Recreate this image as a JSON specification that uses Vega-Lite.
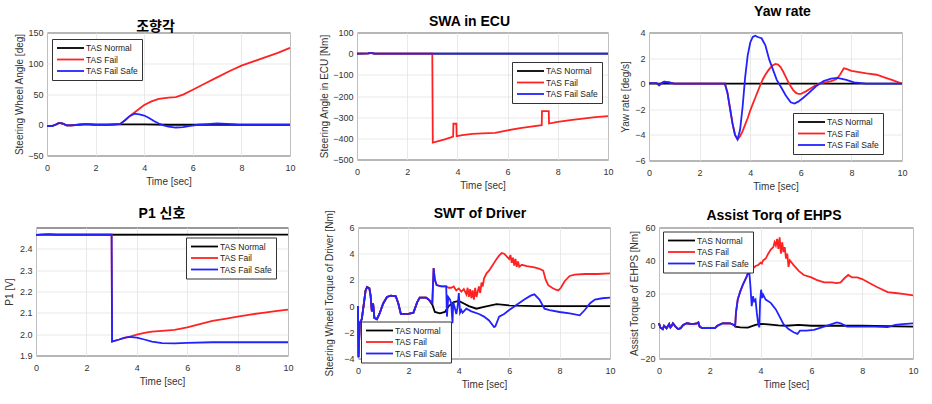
{
"$schema": "https://vega.github.io/schema/vega-lite/v6.json",
"padding": {"left": 0, "top": 4.5, "right": 0, "bottom": 0},
"spacing": 13,
"resolve": {"scale": {"color": "independent"}, "legend": {"color": "independent"}},
"config": {
  "font": "Liberation Sans",
  "view": {"stroke": "#333", "strokeWidth": 1},
  "axis": {"grid": true, "gridColor": "#e3e3e3", "gridWidth": 0.8, "ticks": false, "domain": false, "labelFlush": false, "labelOverlap": false, "labelFontSize": 9, "labelColor": "#333", "titleFontSize": 10, "titleFontWeight": "normal", "titleColor": "#333", "labelPadding": 4},
  "axisX": {"labelPadding": 7.5, "titlePadding": 4.5},
  "title": {"font": "Liberation Sans, Noto Sans CJK KR", "fontSize": 14, "fontWeight": "bold", "color": "#000", "frame": "group"},
  "legend": {"orient": "none", "symbolType": "M-1,0L5.75,0", "symbolSize": 64, "symbolStrokeWidth": 2, "labelOffset": 20, "labelFontSize": 8.5, "labelColor": "#222", "padding": 4, "rowPadding": 1.5, "strokeColor": "#333", "fillColor": "white"},
  "line": {"strokeWidth": 1.8}
},
"datasets": {
"p1": [
{"t":0,"v":-2,"s":"N"},{"t":0.2,"v":-2,"s":"N"},{"t":0.35,"v":0,"s":"N"},{"t":0.5,"v":3,"s":"N"},{"t":0.65,"v":2,"s":"N"},{"t":0.8,"v":-1,"s":"N"},{"t":1.0,"v":-1,"s":"N"},{"t":1.3,"v":0,"s":"N"},{"t":1.6,"v":1,"s":"N"},{"t":2.0,"v":0,"s":"N"},{"t":2.5,"v":0,"s":"N"},{"t":3.0,"v":0.5,"s":"N"},{"t":4.0,"v":0.5,"s":"N"},{"t":5.0,"v":0,"s":"N"},{"t":10,"v":0,"s":"N"},
{"t":0,"v":-2,"s":"F"},{"t":0.2,"v":-2,"s":"F"},{"t":0.35,"v":0,"s":"F"},{"t":0.5,"v":3,"s":"F"},{"t":0.65,"v":2,"s":"F"},{"t":0.8,"v":-1,"s":"F"},{"t":1.0,"v":-1,"s":"F"},{"t":1.3,"v":0,"s":"F"},{"t":1.6,"v":1,"s":"F"},{"t":2.0,"v":0,"s":"F"},{"t":2.5,"v":0,"s":"F"},{"t":2.9,"v":1,"s":"F"},{"t":3.0,"v":1,"s":"F"},{"t":3.2,"v":7,"s":"F"},{"t":3.4,"v":14,"s":"F"},{"t":3.6,"v":20,"s":"F"},{"t":3.8,"v":26,"s":"F"},{"t":4.0,"v":32,"s":"F"},{"t":4.3,"v":38,"s":"F"},{"t":4.6,"v":42,"s":"F"},{"t":5.0,"v":44,"s":"F"},{"t":5.3,"v":45,"s":"F"},{"t":5.6,"v":49,"s":"F"},{"t":6.0,"v":57,"s":"F"},{"t":6.5,"v":67,"s":"F"},{"t":7.0,"v":77,"s":"F"},{"t":7.5,"v":87,"s":"F"},{"t":8.0,"v":96,"s":"F"},{"t":8.5,"v":103,"s":"F"},{"t":9.0,"v":110,"s":"F"},{"t":9.5,"v":117,"s":"F"},{"t":10,"v":125,"s":"F"},
{"t":0,"v":-2,"s":"S"},{"t":0.2,"v":-2,"s":"S"},{"t":0.35,"v":0,"s":"S"},{"t":0.5,"v":3,"s":"S"},{"t":0.65,"v":2,"s":"S"},{"t":0.8,"v":-1,"s":"S"},{"t":1.0,"v":-1,"s":"S"},{"t":1.3,"v":0,"s":"S"},{"t":1.6,"v":1,"s":"S"},{"t":2.0,"v":0,"s":"S"},{"t":2.5,"v":0,"s":"S"},{"t":2.9,"v":1,"s":"S"},{"t":3.0,"v":1,"s":"S"},{"t":3.2,"v":7,"s":"S"},{"t":3.4,"v":14,"s":"S"},{"t":3.6,"v":18,"s":"S"},{"t":3.8,"v":17,"s":"S"},{"t":4.0,"v":15,"s":"S"},{"t":4.2,"v":11,"s":"S"},{"t":4.4,"v":6,"s":"S"},{"t":4.6,"v":2,"s":"S"},{"t":4.8,"v":-1,"s":"S"},{"t":5.0,"v":-3,"s":"S"},{"t":5.3,"v":-4.5,"s":"S"},{"t":5.6,"v":-4,"s":"S"},{"t":5.9,"v":-2,"s":"S"},{"t":6.2,"v":0,"s":"S"},{"t":6.6,"v":1,"s":"S"},{"t":7.0,"v":2,"s":"S"},{"t":7.4,"v":1.5,"s":"S"},{"t":7.8,"v":0.5,"s":"S"},{"t":8.5,"v":0,"s":"S"},{"t":10,"v":0,"s":"S"}
],
"p2": [
{"t":0,"v":0,"s":"N"},{"t":0.45,"v":1,"s":"N"},{"t":0.55,"v":4,"s":"N"},{"t":0.7,"v":0,"s":"N"},{"t":10,"v":0,"s":"N"},
{"t":0,"v":0,"s":"F"},{"t":0.45,"v":1,"s":"F"},{"t":0.55,"v":4,"s":"F"},{"t":0.7,"v":0,"s":"F"},{"t":3.0,"v":0,"s":"F"},{"t":3.02,"v":-420,"s":"F"},{"t":3.5,"v":-405,"s":"F"},{"t":3.83,"v":-392,"s":"F"},{"t":3.84,"v":-331,"s":"F"},{"t":3.96,"v":-331,"s":"F"},{"t":3.97,"v":-390,"s":"F"},{"t":4.2,"v":-385,"s":"F"},{"t":4.6,"v":-379,"s":"F"},{"t":5.0,"v":-377,"s":"F"},{"t":5.5,"v":-374,"s":"F"},{"t":6.0,"v":-362,"s":"F"},{"t":6.5,"v":-352,"s":"F"},{"t":7.0,"v":-344,"s":"F"},{"t":7.36,"v":-338,"s":"F"},{"t":7.37,"v":-271,"s":"F"},{"t":7.64,"v":-271,"s":"F"},{"t":7.65,"v":-330,"s":"F"},{"t":8.0,"v":-322,"s":"F"},{"t":8.5,"v":-314,"s":"F"},{"t":9.0,"v":-307,"s":"F"},{"t":9.5,"v":-300,"s":"F"},{"t":10,"v":-295,"s":"F"},
{"t":0,"v":0,"s":"S"},{"t":0.45,"v":1,"s":"S"},{"t":0.55,"v":4,"s":"S"},{"t":0.7,"v":0,"s":"S"},{"t":10,"v":0,"s":"S"}
],
"p3": [
{"t":0,"v":0,"s":"N"},{"t":10,"v":0,"s":"N"},
{"t":0,"v":0.05,"s":"F"},{"t":0.3,"v":0.05,"s":"F"},{"t":0.4,"v":-0.12,"s":"F"},{"t":0.5,"v":0.05,"s":"F"},{"t":0.6,"v":0.15,"s":"F"},{"t":0.8,"v":0.1,"s":"F"},{"t":1.0,"v":0,"s":"F"},{"t":3.0,"v":0,"s":"F"},{"t":3.1,"v":-0.7,"s":"F"},{"t":3.2,"v":-1.9,"s":"F"},{"t":3.3,"v":-3.1,"s":"F"},{"t":3.4,"v":-4.0,"s":"F"},{"t":3.5,"v":-4.35,"s":"F"},{"t":3.6,"v":-4.1,"s":"F"},{"t":3.7,"v":-3.7,"s":"F"},{"t":3.8,"v":-3.2,"s":"F"},{"t":3.9,"v":-2.7,"s":"F"},{"t":4.0,"v":-2.1,"s":"F"},{"t":4.1,"v":-1.6,"s":"F"},{"t":4.2,"v":-1.1,"s":"F"},{"t":4.3,"v":-0.6,"s":"F"},{"t":4.4,"v":-0.1,"s":"F"},{"t":4.5,"v":0.35,"s":"F"},{"t":4.6,"v":0.7,"s":"F"},{"t":4.7,"v":1.0,"s":"F"},{"t":4.8,"v":1.25,"s":"F"},{"t":4.9,"v":1.45,"s":"F"},{"t":5.0,"v":1.55,"s":"F"},{"t":5.1,"v":1.5,"s":"F"},{"t":5.2,"v":1.3,"s":"F"},{"t":5.3,"v":0.95,"s":"F"},{"t":5.4,"v":0.55,"s":"F"},{"t":5.5,"v":0.15,"s":"F"},{"t":5.6,"v":-0.2,"s":"F"},{"t":5.7,"v":-0.5,"s":"F"},{"t":5.8,"v":-0.7,"s":"F"},{"t":5.9,"v":-0.8,"s":"F"},{"t":6.0,"v":-0.8,"s":"F"},{"t":6.2,"v":-0.6,"s":"F"},{"t":6.4,"v":-0.35,"s":"F"},{"t":6.6,"v":-0.1,"s":"F"},{"t":6.8,"v":0.05,"s":"F"},{"t":7.0,"v":0.1,"s":"F"},{"t":7.2,"v":0.2,"s":"F"},{"t":7.4,"v":0.35,"s":"F"},{"t":7.55,"v":0.7,"s":"F"},{"t":7.7,"v":1.2,"s":"F"},{"t":7.8,"v":1.15,"s":"F"},{"t":8.0,"v":1.0,"s":"F"},{"t":8.3,"v":0.9,"s":"F"},{"t":8.6,"v":0.8,"s":"F"},{"t":9.0,"v":0.7,"s":"F"},{"t":9.3,"v":0.5,"s":"F"},{"t":9.6,"v":0.3,"s":"F"},{"t":10,"v":0,"s":"F"},
{"t":0,"v":0.05,"s":"S"},{"t":0.3,"v":0.05,"s":"S"},{"t":0.4,"v":-0.12,"s":"S"},{"t":0.5,"v":0.05,"s":"S"},{"t":0.6,"v":0.15,"s":"S"},{"t":0.8,"v":0.1,"s":"S"},{"t":1.0,"v":0,"s":"S"},{"t":3.0,"v":0,"s":"S"},{"t":3.1,"v":-0.7,"s":"S"},{"t":3.2,"v":-1.9,"s":"S"},{"t":3.3,"v":-3.1,"s":"S"},{"t":3.4,"v":-4.0,"s":"S"},{"t":3.5,"v":-4.35,"s":"S"},{"t":3.6,"v":-3.6,"s":"S"},{"t":3.7,"v":-1.8,"s":"S"},{"t":3.8,"v":0.5,"s":"S"},{"t":3.9,"v":2.2,"s":"S"},{"t":4.0,"v":3.2,"s":"S"},{"t":4.1,"v":3.65,"s":"S"},{"t":4.2,"v":3.75,"s":"S"},{"t":4.3,"v":3.65,"s":"S"},{"t":4.45,"v":3.55,"s":"S"},{"t":4.6,"v":3.0,"s":"S"},{"t":4.75,"v":1.9,"s":"S"},{"t":4.9,"v":1.1,"s":"S"},{"t":5.05,"v":0.3,"s":"S"},{"t":5.2,"v":-0.2,"s":"S"},{"t":5.4,"v":-0.9,"s":"S"},{"t":5.6,"v":-1.45,"s":"S"},{"t":5.75,"v":-1.55,"s":"S"},{"t":5.9,"v":-1.4,"s":"S"},{"t":6.1,"v":-1.1,"s":"S"},{"t":6.3,"v":-0.75,"s":"S"},{"t":6.6,"v":-0.2,"s":"S"},{"t":6.9,"v":0.2,"s":"S"},{"t":7.2,"v":0.4,"s":"S"},{"t":7.45,"v":0.45,"s":"S"},{"t":7.8,"v":0.3,"s":"S"},{"t":8.1,"v":0.1,"s":"S"},{"t":8.6,"v":0,"s":"S"},{"t":10,"v":0,"s":"S"}
],
"p4": [
{"t":0,"v":2.465,"s":"N"},{"t":0.5,"v":2.468,"s":"N"},{"t":0.8,"v":2.466,"s":"N"},{"t":10,"v":2.467,"s":"N"},
{"t":0,"v":2.465,"s":"F"},{"t":0.5,"v":2.468,"s":"F"},{"t":0.8,"v":2.466,"s":"F"},{"t":3.0,"v":2.466,"s":"F"},{"t":3.02,"v":1.965,"s":"F"},{"t":3.3,"v":1.975,"s":"F"},{"t":3.5,"v":1.983,"s":"F"},{"t":3.7,"v":1.987,"s":"F"},{"t":4.0,"v":1.998,"s":"F"},{"t":4.3,"v":2.006,"s":"F"},{"t":4.6,"v":2.012,"s":"F"},{"t":5.0,"v":2.015,"s":"F"},{"t":5.5,"v":2.02,"s":"F"},{"t":6.0,"v":2.032,"s":"F"},{"t":6.5,"v":2.047,"s":"F"},{"t":7.0,"v":2.062,"s":"F"},{"t":7.5,"v":2.072,"s":"F"},{"t":8.0,"v":2.082,"s":"F"},{"t":8.5,"v":2.092,"s":"F"},{"t":9.0,"v":2.1,"s":"F"},{"t":9.5,"v":2.108,"s":"F"},{"t":10,"v":2.115,"s":"F"},
{"t":0,"v":2.465,"s":"S"},{"t":0.5,"v":2.468,"s":"S"},{"t":0.8,"v":2.466,"s":"S"},{"t":3.0,"v":2.466,"s":"S"},{"t":3.02,"v":1.965,"s":"S"},{"t":3.3,"v":1.975,"s":"S"},{"t":3.5,"v":1.983,"s":"S"},{"t":3.7,"v":1.987,"s":"S"},{"t":4.0,"v":1.984,"s":"S"},{"t":4.3,"v":1.975,"s":"S"},{"t":4.6,"v":1.965,"s":"S"},{"t":5.0,"v":1.958,"s":"S"},{"t":5.5,"v":1.957,"s":"S"},{"t":6.0,"v":1.959,"s":"S"},{"t":7.0,"v":1.962,"s":"S"},{"t":8.0,"v":1.962,"s":"S"},{"t":10,"v":1.962,"s":"S"}
],
"p5": [
{"t":0,"v":0,"s":"N"},{"t":0.02,"v":-3.9,"s":"N"},{"t":0.07,"v":-1.3,"s":"N"},{"t":0.15,"v":-1.0,"s":"N"},{"t":0.22,"v":0,"s":"N"},{"t":0.3,"v":1.2,"s":"N"},{"t":0.36,"v":1.45,"s":"N"},{"t":0.45,"v":1.35,"s":"N"},{"t":0.5,"v":0.8,"s":"N"},{"t":0.55,"v":-0.4,"s":"N"},{"t":0.6,"v":0.2,"s":"N"},{"t":0.65,"v":-0.9,"s":"N"},{"t":0.75,"v":-1.0,"s":"N"},{"t":0.85,"v":-0.6,"s":"N"},{"t":1.0,"v":0.2,"s":"N"},{"t":1.15,"v":0.7,"s":"N"},{"t":1.3,"v":0.8,"s":"N"},{"t":1.5,"v":0.75,"s":"N"},{"t":1.6,"v":0.2,"s":"N"},{"t":1.7,"v":-0.6,"s":"N"},{"t":2.0,"v":-0.6,"s":"N"},{"t":2.2,"v":-0.5,"s":"N"},{"t":2.35,"v":0.3,"s":"N"},{"t":2.45,"v":0.65,"s":"N"},{"t":2.7,"v":0.65,"s":"N"},{"t":2.8,"v":0.5,"s":"N"},{"t":2.95,"v":0.1,"s":"N"},{"t":3.05,"v":-0.45,"s":"N"},{"t":3.25,"v":-0.55,"s":"N"},{"t":3.45,"v":-0.45,"s":"N"},{"t":3.6,"v":0.0,"s":"N"},{"t":3.8,"v":0.3,"s":"N"},{"t":4.0,"v":0.4,"s":"N"},{"t":4.2,"v":0.2,"s":"N"},{"t":4.4,"v":0.0,"s":"N"},{"t":4.7,"v":-0.2,"s":"N"},{"t":5.0,"v":-0.05,"s":"N"},{"t":5.5,"v":0.15,"s":"N"},{"t":6.0,"v":0.05,"s":"N"},{"t":7.0,"v":0,"s":"N"},{"t":10,"v":0,"s":"N"},
{"t":0,"v":0,"s":"F"},{"t":0.02,"v":-3.9,"s":"F"},{"t":0.07,"v":-1.3,"s":"F"},{"t":0.15,"v":-1.0,"s":"F"},{"t":0.22,"v":0,"s":"F"},{"t":0.3,"v":1.2,"s":"F"},{"t":0.36,"v":1.45,"s":"F"},{"t":0.45,"v":1.35,"s":"F"},{"t":0.5,"v":0.8,"s":"F"},{"t":0.55,"v":-0.4,"s":"F"},{"t":0.6,"v":0.2,"s":"F"},{"t":0.65,"v":-0.9,"s":"F"},{"t":0.75,"v":-1.0,"s":"F"},{"t":0.85,"v":-0.6,"s":"F"},{"t":1.0,"v":0.2,"s":"F"},{"t":1.15,"v":0.7,"s":"F"},{"t":1.3,"v":0.8,"s":"F"},{"t":1.5,"v":0.75,"s":"F"},{"t":1.6,"v":0.2,"s":"F"},{"t":1.7,"v":-0.6,"s":"F"},{"t":2.0,"v":-0.6,"s":"F"},{"t":2.2,"v":-0.5,"s":"F"},{"t":2.35,"v":0.3,"s":"F"},{"t":2.45,"v":0.65,"s":"F"},{"t":2.7,"v":0.65,"s":"F"},{"t":2.8,"v":0.5,"s":"F"},{"t":2.95,"v":0.25,"s":"F"},{"t":3.0,"v":2.9,"s":"F"},{"t":3.05,"v":2.0,"s":"F"},{"t":3.12,"v":1.6,"s":"F"},{"t":3.3,"v":1.5,"s":"F"},{"t":3.5,"v":1.5,"s":"F"},{"t":3.6,"v":1.4,"s":"F"},{"t":3.7,"v":1.4,"s":"F"},{"t":3.8,"v":1.5,"s":"F"},{"t":3.9,"v":1.2,"s":"F"},{"t":4.0,"v":1.35,"s":"F"},{"t":4.1,"v":1.1,"s":"F"},{"t":4.2,"v":1.3,"s":"F"},{"t":4.3,"v":0.9,"s":"F"},{"t":4.35,"v":1.4,"s":"F"},{"t":4.4,"v":0.7,"s":"F"},{"t":4.45,"v":1.3,"s":"F"},{"t":4.5,"v":0.6,"s":"F"},{"t":4.55,"v":1.2,"s":"F"},{"t":4.6,"v":0.5,"s":"F"},{"t":4.65,"v":1.4,"s":"F"},{"t":4.7,"v":0.7,"s":"F"},{"t":4.75,"v":1.1,"s":"F"},{"t":4.8,"v":1.5,"s":"F"},{"t":4.85,"v":1.0,"s":"F"},{"t":4.9,"v":1.8,"s":"F"},{"t":4.95,"v":1.5,"s":"F"},{"t":5.0,"v":2.1,"s":"F"},{"t":5.1,"v":2.5,"s":"F"},{"t":5.2,"v":2.7,"s":"F"},{"t":5.3,"v":3.0,"s":"F"},{"t":5.4,"v":3.3,"s":"F"},{"t":5.5,"v":3.6,"s":"F"},{"t":5.6,"v":3.85,"s":"F"},{"t":5.7,"v":4.05,"s":"F"},{"t":5.8,"v":4.0,"s":"F"},{"t":5.9,"v":3.8,"s":"F"},{"t":6.0,"v":3.6,"s":"F"},{"t":6.05,"v":3.9,"s":"F"},{"t":6.1,"v":3.3,"s":"F"},{"t":6.15,"v":3.7,"s":"F"},{"t":6.2,"v":3.1,"s":"F"},{"t":6.25,"v":3.6,"s":"F"},{"t":6.3,"v":3.0,"s":"F"},{"t":6.35,"v":3.4,"s":"F"},{"t":6.4,"v":3.0,"s":"F"},{"t":6.5,"v":3.15,"s":"F"},{"t":6.7,"v":3.05,"s":"F"},{"t":7.0,"v":2.95,"s":"F"},{"t":7.2,"v":2.85,"s":"F"},{"t":7.35,"v":2.7,"s":"F"},{"t":7.45,"v":2.0,"s":"F"},{"t":7.55,"v":1.6,"s":"F"},{"t":7.7,"v":1.4,"s":"F"},{"t":7.85,"v":1.25,"s":"F"},{"t":7.95,"v":1.2,"s":"F"},{"t":8.05,"v":1.4,"s":"F"},{"t":8.2,"v":1.9,"s":"F"},{"t":8.4,"v":2.3,"s":"F"},{"t":8.6,"v":2.4,"s":"F"},{"t":9.0,"v":2.45,"s":"F"},{"t":9.5,"v":2.45,"s":"F"},{"t":10,"v":2.5,"s":"F"},
{"t":0,"v":0,"s":"S"},{"t":0.02,"v":-3.9,"s":"S"},{"t":0.07,"v":-1.3,"s":"S"},{"t":0.15,"v":-1.0,"s":"S"},{"t":0.22,"v":0,"s":"S"},{"t":0.3,"v":1.2,"s":"S"},{"t":0.36,"v":1.45,"s":"S"},{"t":0.45,"v":1.35,"s":"S"},{"t":0.5,"v":0.8,"s":"S"},{"t":0.55,"v":-0.4,"s":"S"},{"t":0.6,"v":0.2,"s":"S"},{"t":0.65,"v":-0.9,"s":"S"},{"t":0.75,"v":-1.0,"s":"S"},{"t":0.85,"v":-0.6,"s":"S"},{"t":1.0,"v":0.2,"s":"S"},{"t":1.15,"v":0.7,"s":"S"},{"t":1.3,"v":0.8,"s":"S"},{"t":1.5,"v":0.75,"s":"S"},{"t":1.6,"v":0.2,"s":"S"},{"t":1.7,"v":-0.6,"s":"S"},{"t":2.0,"v":-0.6,"s":"S"},{"t":2.2,"v":-0.5,"s":"S"},{"t":2.35,"v":0.3,"s":"S"},{"t":2.45,"v":0.65,"s":"S"},{"t":2.7,"v":0.65,"s":"S"},{"t":2.8,"v":0.5,"s":"S"},{"t":2.95,"v":0.25,"s":"S"},{"t":3.0,"v":2.9,"s":"S"},{"t":3.05,"v":2.0,"s":"S"},{"t":3.12,"v":1.6,"s":"S"},{"t":3.3,"v":1.5,"s":"S"},{"t":3.5,"v":1.5,"s":"S"},{"t":3.53,"v":-0.8,"s":"S"},{"t":3.58,"v":0.7,"s":"S"},{"t":3.65,"v":0.5,"s":"S"},{"t":3.7,"v":0.2,"s":"S"},{"t":3.75,"v":-1.3,"s":"S"},{"t":3.78,"v":0.3,"s":"S"},{"t":3.85,"v":-0.2,"s":"S"},{"t":3.9,"v":-0.6,"s":"S"},{"t":3.95,"v":-0.1,"s":"S"},{"t":4.0,"v":1.0,"s":"S"},{"t":4.05,"v":-0.5,"s":"S"},{"t":4.1,"v":-0.3,"s":"S"},{"t":4.15,"v":-0.5,"s":"S"},{"t":4.3,"v":-0.2,"s":"S"},{"t":4.5,"v":-0.4,"s":"S"},{"t":4.8,"v":-0.6,"s":"S"},{"t":5.0,"v":-0.8,"s":"S"},{"t":5.2,"v":-1.1,"s":"S"},{"t":5.4,"v":-1.6,"s":"S"},{"t":5.45,"v":-1.55,"s":"S"},{"t":5.6,"v":-0.8,"s":"S"},{"t":5.8,"v":-0.6,"s":"S"},{"t":6.0,"v":-0.3,"s":"S"},{"t":6.3,"v":0.1,"s":"S"},{"t":6.6,"v":0.5,"s":"S"},{"t":6.85,"v":0.8,"s":"S"},{"t":7.0,"v":0.9,"s":"S"},{"t":7.2,"v":0.5,"s":"S"},{"t":7.4,"v":-0.2,"s":"S"},{"t":7.6,"v":-0.3,"s":"S"},{"t":8.0,"v":-0.45,"s":"S"},{"t":8.4,"v":-0.55,"s":"S"},{"t":8.8,"v":-0.7,"s":"S"},{"t":9.0,"v":-0.3,"s":"S"},{"t":9.2,"v":0.2,"s":"S"},{"t":9.4,"v":0.5,"s":"S"},{"t":9.7,"v":0.6,"s":"S"},{"t":10,"v":0.65,"s":"S"}
],
"p6": [
{"t":0,"v":1.5,"s":"N"},{"t":0.05,"v":-1,"s":"N"},{"t":0.15,"v":-2,"s":"N"},{"t":0.2,"v":0,"s":"N"},{"t":0.3,"v":-1.5,"s":"N"},{"t":0.4,"v":1,"s":"N"},{"t":0.45,"v":-1,"s":"N"},{"t":0.5,"v":0,"s":"N"},{"t":0.55,"v":1.5,"s":"N"},{"t":0.65,"v":-0.5,"s":"N"},{"t":0.75,"v":-2,"s":"N"},{"t":0.85,"v":-1.5,"s":"N"},{"t":0.95,"v":0.5,"s":"N"},{"t":1.1,"v":1.5,"s":"N"},{"t":1.3,"v":1,"s":"N"},{"t":1.5,"v":1.5,"s":"N"},{"t":1.55,"v":2,"s":"N"},{"t":1.6,"v":-0.5,"s":"N"},{"t":1.7,"v":-1.5,"s":"N"},{"t":2.2,"v":-1.5,"s":"N"},{"t":2.3,"v":0,"s":"N"},{"t":2.5,"v":1.5,"s":"N"},{"t":2.8,"v":1.5,"s":"N"},{"t":2.95,"v":0.5,"s":"N"},{"t":3.0,"v":-0.5,"s":"N"},{"t":3.2,"v":-1,"s":"N"},{"t":3.5,"v":-1.2,"s":"N"},{"t":3.8,"v":0.5,"s":"N"},{"t":4.0,"v":1.2,"s":"N"},{"t":4.3,"v":0.8,"s":"N"},{"t":4.7,"v":0.2,"s":"N"},{"t":5.0,"v":0,"s":"N"},{"t":5.5,"v":0.5,"s":"N"},{"t":6.0,"v":0,"s":"N"},{"t":8.0,"v":0,"s":"N"},{"t":10,"v":-0.5,"s":"N"},
{"t":0,"v":1.5,"s":"F"},{"t":0.05,"v":-1,"s":"F"},{"t":0.15,"v":-2,"s":"F"},{"t":0.2,"v":0,"s":"F"},{"t":0.3,"v":-1.5,"s":"F"},{"t":0.4,"v":1,"s":"F"},{"t":0.45,"v":-1,"s":"F"},{"t":0.5,"v":0,"s":"F"},{"t":0.55,"v":1.5,"s":"F"},{"t":0.65,"v":-0.5,"s":"F"},{"t":0.75,"v":-2,"s":"F"},{"t":0.85,"v":-1.5,"s":"F"},{"t":0.95,"v":0.5,"s":"F"},{"t":1.1,"v":1.5,"s":"F"},{"t":1.3,"v":1,"s":"F"},{"t":1.5,"v":1.5,"s":"F"},{"t":1.55,"v":2,"s":"F"},{"t":1.6,"v":-0.5,"s":"F"},{"t":1.7,"v":-1.5,"s":"F"},{"t":2.2,"v":-1.5,"s":"F"},{"t":2.3,"v":0,"s":"F"},{"t":2.5,"v":1.5,"s":"F"},{"t":2.8,"v":1.5,"s":"F"},{"t":2.95,"v":0.5,"s":"F"},{"t":3.0,"v":0,"s":"F"},{"t":3.03,"v":8,"s":"F"},{"t":3.1,"v":16,"s":"F"},{"t":3.2,"v":21,"s":"F"},{"t":3.3,"v":25,"s":"F"},{"t":3.45,"v":30,"s":"F"},{"t":3.55,"v":34,"s":"F"},{"t":3.6,"v":34.5,"s":"F"},{"t":3.7,"v":35,"s":"F"},{"t":3.8,"v":36.5,"s":"F"},{"t":3.9,"v":37,"s":"F"},{"t":4.0,"v":38.5,"s":"F"},{"t":4.05,"v":38,"s":"F"},{"t":4.1,"v":40,"s":"F"},{"t":4.2,"v":41,"s":"F"},{"t":4.3,"v":44,"s":"F"},{"t":4.4,"v":46.5,"s":"F"},{"t":4.5,"v":48,"s":"F"},{"t":4.55,"v":51,"s":"F"},{"t":4.6,"v":49,"s":"F"},{"t":4.65,"v":53,"s":"F"},{"t":4.7,"v":47,"s":"F"},{"t":4.75,"v":54,"s":"F"},{"t":4.8,"v":44,"s":"F"},{"t":4.85,"v":51,"s":"F"},{"t":4.9,"v":45,"s":"F"},{"t":4.95,"v":48,"s":"F"},{"t":5.0,"v":41,"s":"F"},{"t":5.05,"v":44,"s":"F"},{"t":5.1,"v":36,"s":"F"},{"t":5.15,"v":40,"s":"F"},{"t":5.3,"v":37,"s":"F"},{"t":5.5,"v":33.5,"s":"F"},{"t":5.7,"v":31,"s":"F"},{"t":6.0,"v":29.5,"s":"F"},{"t":6.2,"v":28,"s":"F"},{"t":6.5,"v":26.5,"s":"F"},{"t":6.8,"v":26.5,"s":"F"},{"t":7.0,"v":26,"s":"F"},{"t":7.15,"v":26.5,"s":"F"},{"t":7.3,"v":29,"s":"F"},{"t":7.45,"v":31,"s":"F"},{"t":7.6,"v":29.5,"s":"F"},{"t":7.8,"v":29.5,"s":"F"},{"t":8.0,"v":28.5,"s":"F"},{"t":8.3,"v":26,"s":"F"},{"t":8.6,"v":23.5,"s":"F"},{"t":9.0,"v":20.5,"s":"F"},{"t":9.3,"v":20,"s":"F"},{"t":9.6,"v":19.5,"s":"F"},{"t":10,"v":18.5,"s":"F"},
{"t":0,"v":1.5,"s":"S"},{"t":0.05,"v":-1,"s":"S"},{"t":0.15,"v":-2,"s":"S"},{"t":0.2,"v":0,"s":"S"},{"t":0.3,"v":-1.5,"s":"S"},{"t":0.4,"v":1,"s":"S"},{"t":0.45,"v":-1,"s":"S"},{"t":0.5,"v":0,"s":"S"},{"t":0.55,"v":1.5,"s":"S"},{"t":0.65,"v":-0.5,"s":"S"},{"t":0.75,"v":-2,"s":"S"},{"t":0.85,"v":-1.5,"s":"S"},{"t":0.95,"v":0.5,"s":"S"},{"t":1.1,"v":1.5,"s":"S"},{"t":1.3,"v":1,"s":"S"},{"t":1.5,"v":1.5,"s":"S"},{"t":1.55,"v":2,"s":"S"},{"t":1.6,"v":-0.5,"s":"S"},{"t":1.7,"v":-1.5,"s":"S"},{"t":2.2,"v":-1.5,"s":"S"},{"t":2.3,"v":0,"s":"S"},{"t":2.5,"v":1.5,"s":"S"},{"t":2.8,"v":1.5,"s":"S"},{"t":2.95,"v":0.5,"s":"S"},{"t":3.0,"v":0,"s":"S"},{"t":3.03,"v":8,"s":"S"},{"t":3.1,"v":16,"s":"S"},{"t":3.2,"v":21,"s":"S"},{"t":3.3,"v":25,"s":"S"},{"t":3.45,"v":30,"s":"S"},{"t":3.55,"v":34,"s":"S"},{"t":3.6,"v":24,"s":"S"},{"t":3.65,"v":12,"s":"S"},{"t":3.7,"v":18,"s":"S"},{"t":3.75,"v":15,"s":"S"},{"t":3.8,"v":16,"s":"S"},{"t":3.85,"v":8,"s":"S"},{"t":3.9,"v":2,"s":"S"},{"t":3.95,"v":-1,"s":"S"},{"t":3.98,"v":15,"s":"S"},{"t":4.02,"v":22,"s":"S"},{"t":4.06,"v":17,"s":"S"},{"t":4.1,"v":19,"s":"S"},{"t":4.2,"v":16,"s":"S"},{"t":4.4,"v":14,"s":"S"},{"t":4.6,"v":10,"s":"S"},{"t":4.8,"v":4,"s":"S"},{"t":4.9,"v":1,"s":"S"},{"t":5.1,"v":-2,"s":"S"},{"t":5.3,"v":-4,"s":"S"},{"t":5.45,"v":-5,"s":"S"},{"t":5.55,"v":-3,"s":"S"},{"t":5.8,"v":-3,"s":"S"},{"t":6.1,"v":-2.5,"s":"S"},{"t":6.5,"v":-0.5,"s":"S"},{"t":6.8,"v":1,"s":"S"},{"t":7.0,"v":2,"s":"S"},{"t":7.15,"v":1.5,"s":"S"},{"t":7.4,"v":-0.5,"s":"S"},{"t":8.0,"v":-0.5,"s":"S"},{"t":8.5,"v":-0.5,"s":"S"},{"t":9.0,"v":-0.8,"s":"S"},{"t":9.3,"v":0.5,"s":"S"},{"t":9.6,"v":1,"s":"S"},{"t":10,"v":1.5,"s":"S"}
]
},
"vconcat": [
{"hconcat": [
{"width": 47, "height": 1, "data": {"values": []}, "mark": "point", "view": {"stroke": null, "fill": null}},
{"width": 243, "height": 123, "title": {"text": "조향각", "offset": -5, "dx": -13},
 "data": {"name": "p1"}, "mark": "line",
 "encoding": {
  "x": {"field": "t", "type": "quantitative", "scale": {"domain": [0, 10], "nice": false}, "axis": {"values": [0,2,4,6,8,10], "title": "Time [sec]"}},
  "y": {"field": "v", "type": "quantitative", "scale": {"domain": [-50, 150], "nice": false, "zero": false}, "axis": {"values": [-50,0,50,100,150], "title": "Steering Wheel Angle [deg]", "titlePadding": 3.5}},
  "color": {"field": "s", "type": "nominal", "scale": {"domain": ["N","F","S"], "range": ["#000000","#ff2222","#2222ff"]}, "legend": {"title": null, "legendX": 5, "legendY": 6.5, "labelExpr": "datum.label == 'N' ? 'TAS Normal' : datum.label == 'F' ? 'TAS Fail' : 'TAS Fail Safe'"}}
 }},
{"width": 67, "height": 1, "data": {"values": []}, "mark": "point", "view": {"stroke": null, "fill": null}},
{"width": 251, "height": 127, "title": {"text": "SWA in ECU", "offset": 0, "dx": -13},
 "data": {"name": "p2"}, "mark": "line",
 "encoding": {
  "x": {"field": "t", "type": "quantitative", "scale": {"domain": [0, 10], "nice": false}, "axis": {"values": [0,2,4,6,8,10], "title": "Time [sec]"}},
  "y": {"field": "v", "type": "quantitative", "scale": {"domain": [-500, 100], "nice": false, "zero": false}, "axis": {"values": [-500,-400,-300,-200,-100,0,100], "title": "Steering Angle in ECU [Nm]", "titlePadding": 3}},
  "color": {"field": "s", "type": "nominal", "scale": {"domain": ["N","F","S"], "range": ["#000000","#ff2222","#2222ff"]}, "legend": {"title": null, "legendX": 155, "legendY": 29.5, "labelExpr": "datum.label == 'N' ? 'TAS Normal' : datum.label == 'F' ? 'TAS Fail' : 'TAS Fail Safe'"}}
 }},
{"width": 41, "height": 1, "data": {"values": []}, "mark": "point", "view": {"stroke": null, "fill": null}},
{"width": 253, "height": 128, "title": {"text": "Yaw rate", "offset": 9.5, "dx": 7},
 "data": {"name": "p3"}, "mark": "line",
 "encoding": {
  "x": {"field": "t", "type": "quantitative", "scale": {"domain": [0, 10], "nice": false}, "axis": {"values": [0,2,4,6,8,10], "title": "Time [sec]"}},
  "y": {"field": "v", "type": "quantitative", "scale": {"domain": [-6, 4], "nice": false, "zero": false}, "axis": {"values": [-6,-4,-2,0,2,4], "title": "Yaw rate [deg/s]", "titlePadding": 4.5}},
  "color": {"field": "s", "type": "nominal", "scale": {"domain": ["N","F","S"], "range": ["#000000","#ff2222","#2222ff"]}, "legend": {"title": null, "legendX": 144, "legendY": 80.5, "labelExpr": "datum.label == 'N' ? 'TAS Normal' : datum.label == 'F' ? 'TAS Fail' : 'TAS Fail Safe'"}}
 }}
], "bounds": "flush", "spacing": 0, "resolve": {"scale": {"color": "independent"}, "legend": {"color": "independent"}}},
{"hconcat": [
{"width": 36, "height": 1, "data": {"values": []}, "mark": "point", "view": {"stroke": null, "fill": null}},
{"width": 252, "height": 128, "title": {"text": "P1 신호", "offset": 7, "dx": 0},
 "data": {"name": "p4"}, "mark": "line",
 "encoding": {
  "x": {"field": "t", "type": "quantitative", "scale": {"domain": [0, 10], "nice": false}, "axis": {"values": [0,2,4,6,8,10], "title": "Time [sec]"}},
  "y": {"field": "v", "type": "quantitative", "scale": {"domain": [1.9, 2.5], "nice": false, "zero": false}, "axis": {"values": [1.9,2,2.1,2.2,2.3,2.4], "title": "P1 [V]", "titlePadding": 4.5}},
  "color": {"field": "s", "type": "nominal", "scale": {"domain": ["N","F","S"], "range": ["#000000","#ff2222","#2222ff"]}, "legend": {"title": null, "legendX": 150, "legendY": 10, "labelExpr": "datum.label == 'N' ? 'TAS Normal' : datum.label == 'F' ? 'TAS Fail' : 'TAS Fail Safe'"}}
 }},
{"width": 70, "height": 1, "data": {"values": []}, "mark": "point", "view": {"stroke": null, "fill": null}},
{"width": 252, "height": 131, "title": {"text": "SWT of Driver", "offset": -11.5, "dx": -4},
 "data": {"name": "p5"}, "mark": "line",
 "encoding": {
  "x": {"field": "t", "type": "quantitative", "scale": {"domain": [0, 10], "nice": false}, "axis": {"values": [0,2,4,6,8,10], "title": "Time [sec]"}},
  "y": {"field": "v", "type": "quantitative", "scale": {"domain": [-4, 6], "nice": false, "zero": false}, "axis": {"values": [-4,-2,0,2,4,6], "title": "Steering Wheel Torque of Driver [Nm]", "titlePadding": 9}},
  "color": {"field": "s", "type": "nominal", "scale": {"domain": ["N","F","S"], "range": ["#000000","#ff2222","#2222ff"]}, "legend": {"title": null, "legendX": 3, "legendY": 94, "labelExpr": "datum.label == 'N' ? 'TAS Normal' : datum.label == 'F' ? 'TAS Fail' : 'TAS Fail Safe'"}}
 }},
{"width": 49, "height": 1, "data": {"values": []}, "mark": "point", "view": {"stroke": null, "fill": null}},
{"width": 254, "height": 131, "title": {"text": "Assist Torq of EHPS", "offset": 1, "dx": -12},
 "data": {"name": "p6"}, "mark": "line",
 "encoding": {
  "x": {"field": "t", "type": "quantitative", "scale": {"domain": [0, 10], "nice": false}, "axis": {"values": [0,2,4,6,8,10], "title": "Time [sec]"}},
  "y": {"field": "v", "type": "quantitative", "scale": {"domain": [-20, 60], "nice": false, "zero": false}, "axis": {"values": [-20,0,20,40,60], "title": "Assist Torque of EHPS [Nm]", "titlePadding": 0.5}},
  "color": {"field": "s", "type": "nominal", "scale": {"domain": ["N","F","S"], "range": ["#000000","#ff2222","#2222ff"]}, "legend": {"title": null, "legendX": 4, "legendY": 4, "labelExpr": "datum.label == 'N' ? 'TAS Normal' : datum.label == 'F' ? 'TAS Fail' : 'TAS Fail Safe'"}}
 }}
], "bounds": "flush", "spacing": 0, "resolve": {"scale": {"color": "independent"}, "legend": {"color": "independent"}}}
]
}
